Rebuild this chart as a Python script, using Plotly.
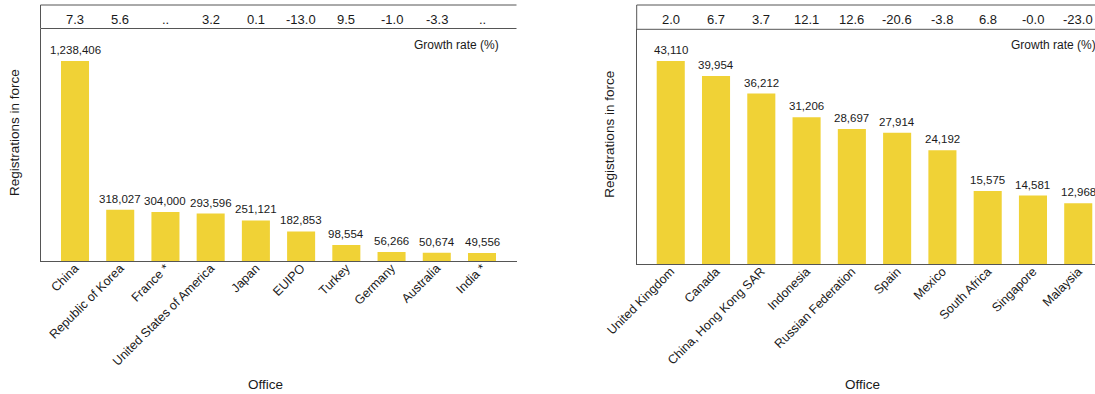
import plotly.graph_objects as go

# ---------------- data ----------------
left_offices = ["China", "Republic of Korea", "France *", "United States of America", "Japan",
                "EUIPO", "Turkey", "Germany", "Australia", "India *"]
left_values = [1238406, 318027, 304000, 293596, 251121, 182853, 98554, 56266, 50674, 49556]
left_growth = ["7.3", "5.6", "..", "3.2", "0.1", "-13.0", "9.5", "-1.0", "-3.3", ".."]

right_offices = ["United Kingdom", "Canada", "China, Hong Kong SAR", "Indonesia", "Russian Federation",
                 "Spain", "Mexico", "South Africa", "Singapore", "Malaysia"]
right_values = [43110, 39954, 36212, 31206, 28697, 27914, 24192, 15575, 14581, 12968]
right_growth = ["2.0", "6.7", "3.7", "12.1", "12.6", "-20.6", "-3.8", "6.8", "-0.0", "-23.0"]

# ---------------- styling ----------------
W, H = 1095, 394
FONT = "Liberation Sans, Arial, sans-serif"
BAR = "#F0D236"
TXT = "#1a1a1a"
LINE = "#555555"
VAL_SIZE = 11.5
ROW_SIZE = 13
GR_SIZE = 12
TICK_SIZE = 12.5
TITLE_SIZE = 13.5


def px(x):
    return x / W


def py(y):
    return 1 - y / H


panels = [
    dict(cats=left_offices, vals=left_values, growth=left_growth, xa="x", ya="y",
         xl=40.5, xr=516.5, top=5, sep=28.5, bot=261, ymax=1440000, xrange=[-0.763, 9.763],
         ytitle_x=15, office_x=265, gr_x=500.7),
    dict(cats=right_offices, vals=right_values, growth=right_growth, xa="x2", ya="y2",
         xl=636.7, xr=1095, top=5, sep=29.3, bot=264.3, ymax=49850, xrange=[-0.752, 9.37],
         ytitle_x=610, office_x=862, gr_x=1098.5),
]

fig = go.Figure()
annotations = []
shapes = []

for i, p in enumerate(panels):
    fig.add_trace(go.Bar(
        x=p["cats"], y=p["vals"], xaxis=p["xa"], yaxis=p["ya"],
        marker=dict(color=BAR, line=dict(width=0)), width=0.62, showlegend=False,
        hoverinfo="x+y",
    ))
    xref = p["xa"]
    yref = p["ya"]
    # value labels above bars
    for c, v in zip(p["cats"], p["vals"]):
        annotations.append(dict(x=c, y=v, xref=xref, yref=yref, text=f"{v:,}",
                                showarrow=False, yanchor="bottom", yshift=3,
                                font=dict(family=FONT, size=VAL_SIZE, color=TXT)))
    # growth rate row
    for c, g in zip(p["cats"], p["growth"]):
        annotations.append(dict(x=c, y=py(19.5), xref=xref, yref="paper", text=g,
                                showarrow=False, yanchor="middle",
                                font=dict(family=FONT, size=ROW_SIZE, color=TXT)))
    # "Growth rate (%)"
    annotations.append(dict(x=px(p["gr_x"]), y=py(45), xref="paper", yref="paper",
                            text="Growth rate (%)", showarrow=False, xanchor="right",
                            yanchor="middle", font=dict(family=FONT, size=GR_SIZE, color=TXT)))
    # y title
    annotations.append(dict(x=px(p["ytitle_x"]), y=py((p["top"] + p["bot"]) / 2), xref="paper",
                            yref="paper", text="Registrations in force", textangle=-90,
                            showarrow=False, xanchor="center", yanchor="middle",
                            font=dict(family=FONT, size=TITLE_SIZE, color=TXT)))
    # x title
    annotations.append(dict(x=px(p["office_x"]), y=py(384), xref="paper", yref="paper",
                            text="Office", showarrow=False, xanchor="center", yanchor="middle",
                            font=dict(family=FONT, size=TITLE_SIZE, color=TXT)))
    # frame lines for the growth row
    for yy in (p["top"], p["sep"]):
        shapes.append(dict(type="line", xref="paper", yref="paper",
                           x0=px(p["xl"]), x1=px(p["xr"]),
                           y0=py(yy), y1=py(yy), line=dict(color=LINE, width=1)))
    shapes.append(dict(type="line", xref="paper", yref="paper",
                       x0=px(p["xl"]), x1=px(p["xl"]), y0=py(p["top"]), y1=py(p["sep"]),
                       line=dict(color=LINE, width=1)))

axis_common = dict(showgrid=False, zeroline=False, automargin=False, fixedrange=True)
xaxis_common = dict(showline=True, linecolor=LINE, linewidth=1, tickangle=-45, ticks="",
                    ticklabelstandoff=-6,
                    tickfont=dict(family=FONT, size=TICK_SIZE, color=TXT), **axis_common)
yaxis_common = dict(showline=True, linecolor=LINE, linewidth=1, showticklabels=False, ticks="",
                    **axis_common)
fig.update_layout(
    width=W, height=H,
    margin=dict(l=0, r=0, t=0, b=0, autoexpand=False),
    paper_bgcolor="white", plot_bgcolor="white",
    font=dict(family=FONT, size=TICK_SIZE, color=TXT),
    xaxis=dict(domain=[px(panels[0]["xl"]), px(panels[0]["xr"])], range=panels[0]["xrange"],
               anchor="y", **xaxis_common),
    yaxis=dict(domain=[py(panels[0]["bot"]), py(panels[0]["sep"])], range=[0, panels[0]["ymax"]],
               anchor="x", **yaxis_common),
    xaxis2=dict(domain=[px(panels[1]["xl"]), 1.0], range=panels[1]["xrange"],
                anchor="y2", **xaxis_common),
    yaxis2=dict(domain=[py(panels[1]["bot"]), py(panels[1]["sep"])], range=[0, panels[1]["ymax"]],
                anchor="x2", **yaxis_common),
    annotations=annotations,
    shapes=shapes,
)

fig.write_html("out.html", config={"displayModeBar": False},
               post_script="document.body.style.margin='0';document.body.style.overflow='hidden';")
